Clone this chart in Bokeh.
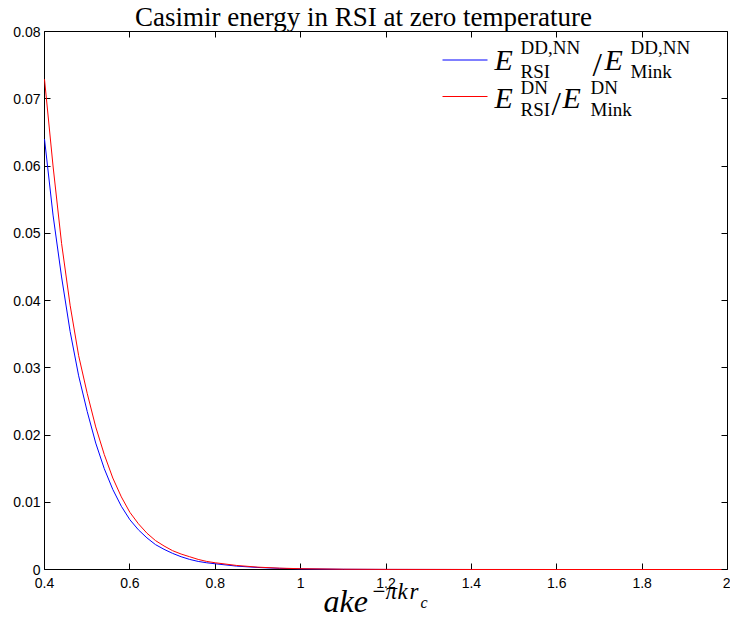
from bokeh.plotting import figure
from bokeh.models import Range1d, LinearAxis, FixedTicker, CustomJSTickFormatter, Label, Arrow
from bokeh.embed import file_html
from bokeh.resources import INLINE

# ---- data ----
x_vals = [0.40, 0.42, 0.44, 0.46, 0.48, 0.50, 0.52, 0.54, 0.56, 0.58, 0.60, 0.62, 0.64,
          0.66, 0.68, 0.70, 0.72, 0.74, 0.76, 0.78, 0.80, 0.85, 0.90, 0.95, 1.00, 1.10,
          1.20, 1.40, 1.60, 1.80, 2.00]
ratio_dd_nn = [0.0640, 0.0527, 0.0435, 0.0354, 0.0288, 0.0235, 0.0188, 0.0150, 0.0119,
               0.0094, 0.0074, 0.0059, 0.0047, 0.0037, 0.0030, 0.0024, 0.0019, 0.0015,
               0.0012, 0.0010, 0.00085, 0.0005, 0.0003, 0.00017, 0.0001, 0.00003,
               0.00001, 0.000002, 0.0, 0.0, 0.0]
ratio_dn = [0.0729, 0.0600, 0.0485, 0.0393, 0.0318, 0.0262, 0.0212, 0.0171, 0.0136,
            0.0108, 0.0085, 0.0068, 0.0054, 0.0043, 0.0035, 0.0028, 0.0023, 0.0019,
            0.0015, 0.0012, 0.0010, 0.0006, 0.00035, 0.0002, 0.00012, 0.00004,
            0.000015, 0.000002, 0.0, 0.0, 0.0]

x_ticks = [0.4, 0.6, 0.8, 1, 1.2, 1.4, 1.6, 1.8, 2]
x_tick_labels = ["0.4", "0.6", "0.8", "1", "1.2", "1.4", "1.6", "1.8", "2"]
y_ticks = [0, 0.01, 0.02, 0.03, 0.04, 0.05, 0.06, 0.07, 0.08]
y_tick_labels = ["0", "0.01", "0.02", "0.03", "0.04", "0.05", "0.06", "0.07", "0.08"]
x_lim = (0.4, 2.0)
y_lim = (0.0, 0.08)

title_text = "Casimir energy in RSI at zero temperature"

# canvas geometry: plot box inside the 730x619 canvas
W, H = 730, 619
BOX_L, BOX_R, BOX_T, BOX_B = 44, 727, 31, 569
kx = (x_lim[1] - x_lim[0]) / (BOX_R - BOX_L)
ky = (y_lim[1] - y_lim[0]) / (BOX_B - BOX_T)
x_range = Range1d(x_lim[0] - BOX_L * kx, x_lim[1] + (W - BOX_R) * kx)
y_range = Range1d(y_lim[0] - (H - BOX_B) * ky, y_lim[1] + BOX_T * ky)

p = figure(width=W, height=H, output_backend="svg", toolbar_location=None,
           x_range=x_range, y_range=y_range,
           x_axis_location=None, y_axis_location=None,
           min_border=0, min_border_left=0, min_border_right=0,
           min_border_top=0, min_border_bottom=0,
           background_fill_color="white", border_fill_color="white")
p.grid.visible = False
p.outline_line_color = None

def mk_axis(ticks, labels, standoff, bounds, loc, level="guide"):
    kw = dict(ticker=FixedTicker(ticks=ticks), major_tick_in=6, major_tick_out=0,
              minor_tick_in=0, minor_tick_out=0, axis_line_color="black",
              axis_line_width=1, major_tick_line_color="black",
              major_label_standoff=standoff, bounds=bounds, fixed_location=loc,
              major_label_text_font="Liberation Sans", major_label_text_font_size="14px",
              major_label_text_color="black", level=level)
    if labels is None:
        kw["formatter"] = CustomJSTickFormatter(code="return ''")
    else:
        kw["major_label_overrides"] = {t: l for t, l in zip(ticks, labels)}
    return LinearAxis(**kw)

p.add_layout(mk_axis(x_ticks, x_tick_labels, 8, x_lim, y_lim[0], level="underlay"), "below")
p.add_layout(mk_axis(x_ticks, None, 0, x_lim, y_lim[1]), "above")
p.add_layout(mk_axis(y_ticks, y_tick_labels, 4, y_lim, x_lim[0], level="underlay"), "left")
p.add_layout(mk_axis(y_ticks, None, 0, y_lim, x_lim[1]), "right")

p.line(x_vals, ratio_dd_nn, line_color="#0000ff", line_width=1)
p.line(x_vals, ratio_dn, line_color="#ff0000", line_width=1)

def put(text, cx, cy, size, italic=False, align="left", k=0.38):
    # cx: left (or centre) x, cy: baseline y, both on the canvas
    y_top_based = cy - k * size
    p.add_layout(Label(x=cx, y=H - y_top_based, x_units="screen", y_units="screen",
                       text=text, text_font="Liberation Serif",
                       text_font_size=f"{size}px",
                       text_font_style="italic" if italic else "normal",
                       text_align=align, text_baseline="alphabetic",
                       text_color="black"))

def swatch(cx0, cx1, cy, color):
    p.add_layout(Arrow(end=None, x_start=cx0, y_start=H - cy, x_end=cx1,
                       y_end=H - cy, start_units="screen", end_units="screen",
                       line_color=color, line_width=1))

# title
put(title_text, 363, 26.5, 27, align="center")

# x label  a k e^{-pi k r_c}
put("ake", 323, 613, 32, italic=True)
put("\u2212", 372, 600, 23)
put("\u03c0", 385, 600, 23, italic=True)
put("k", 397, 600, 23, italic=True)
put("r", 409, 600, 23, italic=True)
put("c", 420, 608, 16, italic=True)

# legend
swatch(442, 487, 59.5, "#0000ff")
swatch(442, 487, 96, "#ff0000")
# row 1
put("E", 494, 71.7, 30, italic=True, k=0.42)
put("DD,NN", 520, 54.3, 19)
put("RSI", 520, 78, 19)
put("/", 592, 77, 34)
put("E", 604, 71.7, 30, italic=True, k=0.42)
put("DD,NN", 630, 54.3, 19)
put("Mink", 630, 78, 19)
# row 2
put("E", 494, 110, 30, italic=True, k=0.42)
put("DN", 520, 94.3, 19)
put("RSI", 520, 116.5, 19)
put("/", 551, 115.5, 34)
put("E", 562, 110, 30, italic=True, k=0.42)
put("DN", 590, 94.3, 19)
put("Mink", 590, 116.5, 19)

open("out.html", "w").write(file_html(p, INLINE))
